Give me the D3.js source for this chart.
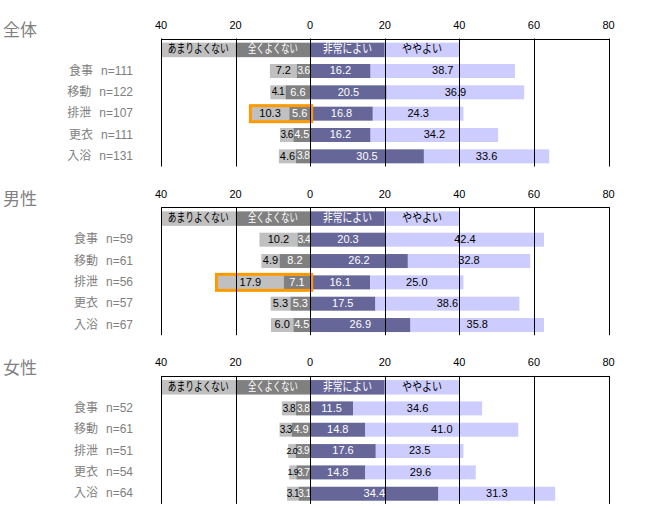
<!DOCTYPE html>
<html><head><meta charset="utf-8">
<script src="https://cdn.jsdelivr.net/npm/d3@7"></script>
<style>
body{margin:0;background:#fff;}
text{font-family:"Liberation Sans","Noto Sans CJK JP",sans-serif;}
</style></head><body>
<svg id="c" width="651" height="508"></svg>
<script>
const panelTitles = ["全体", "男性", "女性"];
const categories = ["食事", "移動", "排泄", "更衣", "入浴"];
const seriesNames = ["あまりよくない", "全くよくない", "非常によい", "ややよい"];
const tickValues = [-40, -20, 0, 20, 40, 60, 80];
const tickLabels = ["40", "20", "0", "20", "40", "60", "80"];
const nCounts = [
  [111, 122, 107, 111, 131],
  [59, 61, 56, 57, 67],
  [52, 61, 51, 54, 64]
];
// per panel, per category
const amariYokunai = [
  [7.2, 4.1, 10.3, 3.6, 4.6],
  [10.2, 4.9, 17.9, 5.3, 6.0],
  [3.8, 3.3, 2.0, 1.9, 3.1]
];
const mattakuYokunai = [
  [3.6, 6.6, 5.6, 4.5, 3.8],
  [3.4, 8.2, 7.1, 5.3, 4.5],
  [3.8, 4.9, 3.9, 3.7, 3.1]
];
const hijouniYoi = [
  [16.2, 20.5, 16.8, 16.2, 30.5],
  [20.3, 26.2, 16.1, 17.5, 26.9],
  [11.5, 14.8, 17.6, 14.8, 34.4]
];
const yayaYoi = [
  [38.7, 36.9, 24.3, 34.2, 33.6],
  [42.4, 32.8, 25.0, 38.6, 35.8],
  [34.6, 41.0, 23.5, 29.6, 31.3]
];
const highlight = [[0, "排泄"], [1, "排泄"]];

const colors = ["#c0c0c0", "#808080", "#666699", "#ccccff"];
const textColors = ["#000", "#fff", "#fff", "#000"];
const legendTextLen = [61, 50, 49, 40];

const svg = d3.select("#c");
const x = d3.scaleLinear().domain([-40, 80]).range([161, 608.5]);
const panelTop = d3.scaleLinear().domain([0, 1]).range([38.5, 207.2]);
const rowKeys = ["legend"].concat(categories);
const barH = 14;

panelTitles.forEach((title, p) => {
  const top = panelTop(p);
  const y = d3.scaleBand().domain(rowKeys).range([top + 0.5, top + 128.5]);
  const g = svg.append("g");

  g.append("text").attr("x", 3).attr("y", top - 6.5)
    .attr("dominant-baseline", "middle")
    .attr("font-size", 17).attr("fill", "#808080").text(title);

  // tick labels
  g.selectAll(".tl").data(tickValues).enter().append("text")
    .attr("x", d => x(d)).attr("y", top - 12.5)
    .attr("text-anchor", "middle").attr("dominant-baseline", "middle")
    .attr("font-size", 11).attr("fill", "#000")
    .text((d, i) => tickLabels[i]);

  // legend row
  const legendRanges = [[-40, -20], [-20, 0], [0, 20], [20, 40]];
  seriesNames.forEach((s, i) => {
    const r = legendRanges[i];
    const yy = y("legend") + (y.bandwidth() - barH) / 2;
    g.append("rect").attr("x", x(r[0])).attr("y", yy)
      .attr("width", x(r[1]) - x(r[0])).attr("height", barH + 0.5)
      .attr("fill", colors[i]);
    g.append("text").attr("x", (x(r[0]) + x(r[1])) / 2).attr("y", yy + barH / 2 + 0.5)
      .attr("text-anchor", "middle").attr("dominant-baseline", "middle")
      .attr("font-size", 12.5).attr("fill", textColors[i])
      .attr("textLength", legendTextLen[i]).attr("lengthAdjust", "spacingAndGlyphs")
      .text(s);
  });

  // bars
  categories.forEach((c, ci) => {
    const vals = [amariYokunai[p][ci], mattakuYokunai[p][ci], hijouniYoi[p][ci], yayaYoi[p][ci]];
    const segs = [
      [-(vals[0] + vals[1]), -vals[1]],
      [-vals[1], 0],
      [0, vals[2]],
      [vals[2], vals[2] + vals[3]]
    ];
    const yy = y(c) + (y.bandwidth() - barH) / 2;
    segs.forEach((sg, i) => {
      g.append("rect").attr("x", x(sg[0])).attr("y", yy)
        .attr("width", x(sg[1]) - x(sg[0])).attr("height", barH)
        .attr("fill", colors[i]);
    });
    segs.forEach((sg, i) => {
      const w = x(sg[1]) - x(sg[0]);
      g.append("text").attr("x", (x(sg[0]) + x(sg[1])) / 2).attr("y", yy + barH / 2 + 0.5)
        .attr("text-anchor", "middle").attr("dominant-baseline", "middle")
        .attr("font-size", w < 8 ? 9 : (w < 16 ? 10 : 11))
        .attr("letter-spacing", w < 16 ? -0.6 : 0)
        .attr("fill", textColors[i]).text(vals[i].toFixed(1));
    });
    // row label
    const t = g.append("text").attr("x", 133).attr("y", yy + barH / 2 + 0.5)
      .attr("text-anchor", "end").attr("dominant-baseline", "middle")
      .attr("font-size", 12).attr("fill", "#808080");
    t.append("tspan").text(c);
    t.append("tspan").attr("dx", 8).text("n=" + nCounts[p][ci]);

    highlight.forEach(h => {
      if (h[0] === p && h[1] === c) {
        g.append("rect").attr("x", x(segs[0][0]) - 0.5).attr("y", yy - 1)
          .attr("width", x(0) - x(segs[0][0]) + 2).attr("height", barH + 2)
          .attr("fill", "none").attr("stroke", "#ff9900").attr("stroke-width", 3);
      }
    });
  });

  // grid lines
  g.selectAll(".gl").data(tickValues).enter().append("line")
    .attr("x1", d => Math.round(x(d)) + 0.5).attr("x2", d => Math.round(x(d)) + 0.5)
    .attr("y1", top).attr("y2", top + 128)
    .attr("stroke", "#000").attr("stroke-width", 1);
  g.append("line").attr("x1", Math.round(x(-40)) + 0.5).attr("x2", Math.round(x(80)) + 0.5)
    .attr("y1", Math.round(top) + 0.5).attr("y2", Math.round(top) + 0.5)
    .attr("stroke", "#000").attr("stroke-width", 1);
});
</script></body></html>
